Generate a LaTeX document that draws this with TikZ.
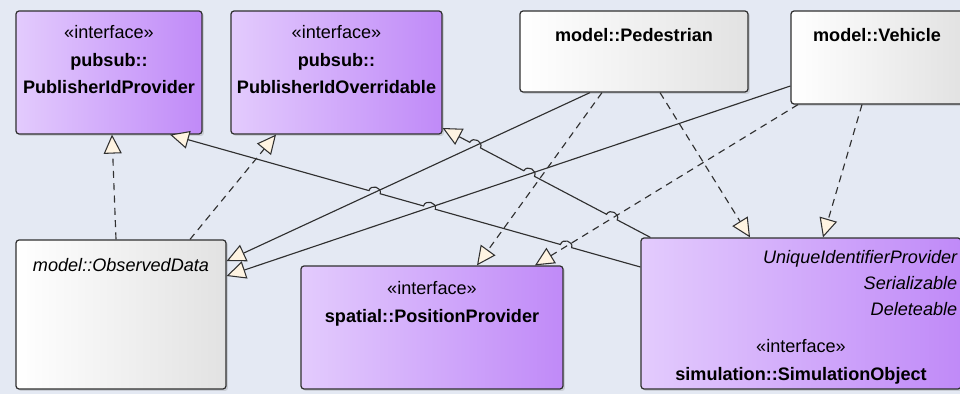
\documentclass[tikz,border=0pt]{standalone}
\usepackage{fontspec}
\setmainfont{Liberation Sans}
\usetikzlibrary{arrows.meta,positioning,calc,shadows}

\definecolor{canvas}{HTML}{E4E9F3}
\definecolor{ifaceL}{HTML}{E3CBFD}
\definecolor{ifaceR}{HTML}{C08AF8}
\definecolor{classR}{HTML}{E2E2E2}
\definecolor{tipfill}{HTML}{FFF4E2}
\definecolor{edge}{HTML}{303030}

\begin{document}
\begin{tikzpicture}[x=0.02cm, y=-0.02cm,
    box/.style={draw=edge, line width=0.7pt, rounded corners=0.06cm, inner sep=0pt,
      drop shadow={shadow xshift=0.04cm, shadow yshift=-0.04cm, opacity=0.25}},
    iface/.style={box, left color=ifaceL, right color=ifaceR},
    klass/.style={box, left color=white, right color=classR},
    txt/.style={inner sep=0pt, align=center, text=black, font=\fontsize{10.3}{15.6}\selectfont},
    realize/.style={draw=edge, line width=0.65pt, dash pattern=on 4pt off 3pt,
      -{Triangle[length=0.38cm, width=0.36cm, fill=tipfill, line width=0.6pt]}},
    general/.style={realize, solid},
    hop/.style={bend right=90, looseness=1.5}]

\useasboundingbox (0,0) rectangle (960,394);
\fill[canvas] (0,0) rectangle (960,394);

% classes and interfaces
\node[iface, minimum width=3.72cm, minimum height=2.46cm] (pip) at (109,72.5) {};
\node[iface, minimum width=4.22cm, minimum height=2.46cm] (pio) at (336.5,72.5) {};
\node[klass, minimum width=4.56cm, minimum height=1.62cm] (ped) at (634,51.5) {};
\node[klass, minimum width=3.44cm, minimum height=1.86cm] (veh) at (877,57.5) {};
\node[klass, minimum width=4.20cm, minimum height=2.98cm] (obs) at (121,314.5) {};
\node[iface, minimum width=5.24cm, minimum height=2.46cm] (pos) at (432,327.5) {};
\node[iface, minimum width=6.40cm, minimum height=3.02cm] (sim) at (801,313.5) {};

\node[txt, below=0.3cm of pip.north] (pipT) {«interface»\\\textbf{pubsub::}\\\textbf{PublisherIdProvider}};
\node[txt, below=0.3cm of pio.north] (pioT) {«interface»\\\textbf{pubsub::}\\\textbf{PublisherIdOverridable}};
\node[txt, below=0.36cm of ped.north] (pedT) {\textbf{model::Pedestrian}};
\node[txt, below=0.36cm of veh.north] (vehT) {\textbf{model::Vehicle}};
\node[txt, below=0.38cm of obs.north] (obsT) {\itshape model::ObservedData};
\node[txt, below=0.32cm of pos.north] (posT) {«interface»\\\textbf{spatial::PositionProvider}};
\node[txt, align=right, font=\fontsize{10.3}{14.8}\selectfont\itshape,
  below left=0.26cm and 0.08cm of sim.north east] (simA) {UniqueIdentifierProvider\\Serializable\\Deleteable};
\node[txt, below=2.04cm of sim.north] (simB) {«interface»\\\textbf{simulation::SimulationObject}};

% realizations
\draw[realize] ([xshift=-0.1cm]obs.north) -- ([xshift=0.06cm]pip.south);
\draw[realize] ([xshift=1.38cm]obs.north) -- ([xshift=-1.21cm]pio.south);
\draw[realize] ([xshift=-0.64cm]ped.south) -- ([xshift=0.9cm]pos.north);
\draw[realize] ([xshift=0.52cm]ped.south) -- ([xshift=-1.02cm]sim.north);
\draw[realize] ([xshift=-1.58cm]veh.south) -- ([xshift=2.06cm]pos.north);
\draw[realize] ([xshift=-0.3cm]veh.south) -- ([xshift=0.44cm]sim.north);

% generalizations
\draw[general] ([xshift=-0.88cm]ped.south) -- ([yshift=1.07cm]obs.east);
\draw[general] ([yshift=-0.57cm]veh.west) -- ([yshift=0.77cm]obs.east);

\coordinate (cS) at ([yshift=0.93cm]sim.west);
\coordinate (cE) at ([xshift=1.22cm]pip.south);
\draw[general] (cS) -- ($(cS)!0.146!(cE)$) to[hop] ($(cS)!0.170!(cE)$)
  -- ($(cS)!0.436!(cE)$) to[hop] ($(cS)!0.461!(cE)$)
  -- ($(cS)!0.553!(cE)$) to[hop] ($(cS)!0.577!(cE)$) -- (cE);

\coordinate (dS) at ([xshift=0.2cm]sim.north west);
\coordinate (dE) at ([yshift=-1.11cm]pio.east);
\draw[general] (dS) -- ($(dS)!0.160!(dE)$) to[hop] ($(dS)!0.211!(dE)$)
  -- ($(dS)!0.558!(dE)$) to[hop] ($(dS)!0.609!(dE)$)
  -- ($(dS)!0.818!(dE)$) to[hop] ($(dS)!0.869!(dE)$) -- (dE);
\end{tikzpicture}
\end{document}
